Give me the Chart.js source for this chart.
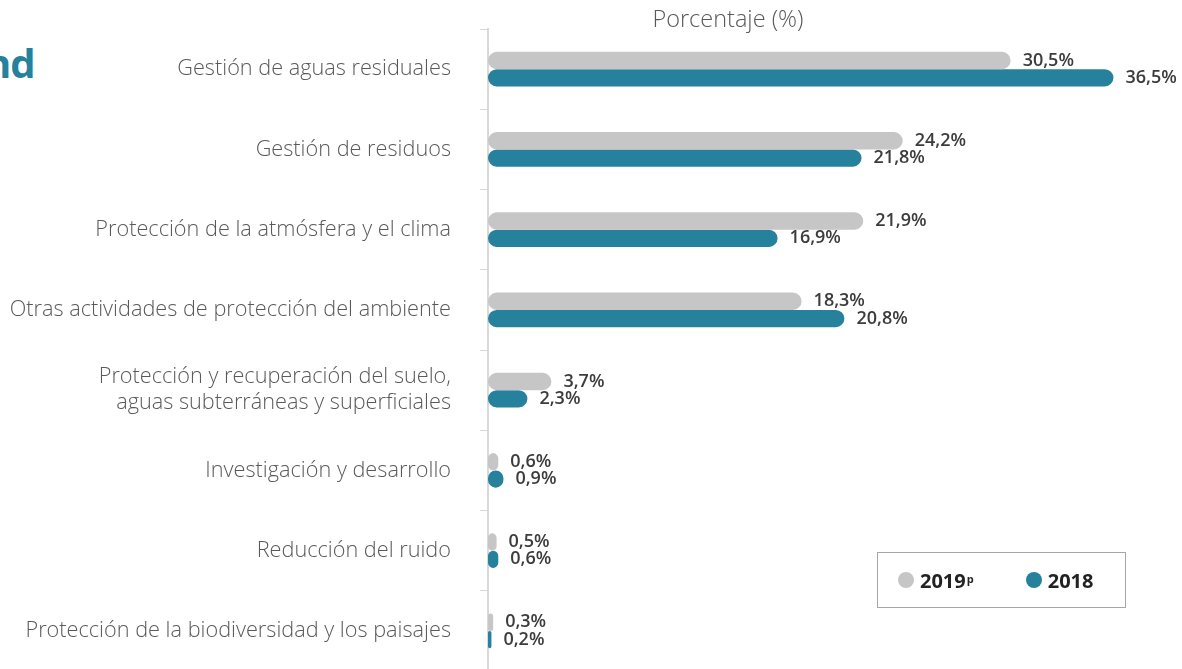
<!DOCTYPE html>
<html lang="es">
<head>
<meta charset="utf-8">
<title>Porcentaje (%)</title>
<script src="https://cdn.jsdelivr.net/npm/chart.js@4.4.1/dist/chart.umd.min.js"></script>
<style>
  html, body { margin: 0; padding: 0; background: #fff; overflow: hidden; }
  body { width: 1182px; height: 669px; position: relative; font-family: "Open Sans", sans-serif; }
  #wrap { position: absolute; left: 0; top: 0; width: 1182px; height: 671px; }
  #cut-title { position: absolute; left: -15px; top: 35px; font: 700 40px "Open Sans", sans-serif; color: #25819c; letter-spacing: -1px; }
  #legend { position: absolute; left: 877px; top: 552px; width: 247px; height: 54px; border: 1px solid #a6a6a6; display: flex; align-items: center; }
  .item { display: flex; align-items: center; font: 700 20px "Open Sans", sans-serif; color: #222; }
  .dot { width: 16px; height: 16px; border-radius: 50%; margin-right: 6px; }
  .item sup { font-size: 11px; margin-left: 1px; position: relative; top: -2px; }
</style>
</head>
<body>
<div id="cut-title">nd</div>
<div id="wrap"><canvas id="chart"></canvas></div>
<div id="legend"></div>
<script>
const categories = [
  "Gestión de aguas residuales",
  "Gestión de residuos",
  "Protección de la atmósfera y el clima",
  "Otras actividades de protección del ambiente",
  ["Protección y recuperación del suelo,", "aguas subterráneas y superficiales"],
  "Investigación y desarrollo",
  "Reducción del ruido",
  "Protección de la biodiversidad y los paisajes"
];
const values2019 = [30.5, 24.2, 21.9, 18.3, 3.7, 0.6, 0.5, 0.3];
const values2018 = [36.5, 21.8, 16.9, 20.8, 2.3, 0.9, 0.6, 0.2];
const seriesNames = ["2019", "2018"];
const seriesSup = ["p", ""];
const axisTitle = "Porcentaje (%)";

const GRAY = "#c6c6c6";
const TEAL = "#25819c";
const AXIS_LEFT = 488;

const fmt = (v) => v.toFixed(1).replace(".", ",") + "%";

const valueLabels = {
  id: "valueLabels",
  afterDatasetsDraw(chart) {
    const ctx = chart.ctx;
    ctx.save();
    ctx.font = "600 18px 'Open Sans', sans-serif";
    ctx.fillStyle = "#3c3c3c";
    ctx.textAlign = "left";
    ctx.textBaseline = "middle";
    chart.data.datasets.forEach((ds, i) => {
      chart.getDatasetMeta(i).data.forEach((bar, j) => {
        ctx.fillText(fmt(ds.data[j]), bar.x + 12, bar.y);
      });
    });
    ctx.restore();
  }
};

const topTitle = {
  id: "topTitle",
  afterDraw(chart) {
    const ctx = chart.ctx;
    ctx.save();
    ctx.font = "300 23.5px 'Open Sans', sans-serif";
    ctx.fillStyle = "#595959";
    ctx.textAlign = "center";
    ctx.textBaseline = "middle";
    ctx.fillText(axisTitle, chart.scales.x.getPixelForValue(14), 20);
    ctx.restore();
  }
};

const barStyle = {
  borderRadius: 9,
  borderSkipped: false,
  categoryPercentage: 0.43,
  barPercentage: 1
};

new Chart(document.getElementById("chart"), {
  type: "bar",
  data: {
    labels: categories,
    datasets: [
      { label: seriesNames[0], data: values2019, backgroundColor: GRAY, ...barStyle },
      { label: seriesNames[1], data: values2018, backgroundColor: TEAL, ...barStyle }
    ]
  },
  options: {
    indexAxis: "y",
    responsive: true,
    maintainAspectRatio: false,
    animation: false,
    layout: { padding: { top: 29, right: 0, bottom: 0, left: 0 } },
    scales: {
      x: { display: false, min: 0, max: 40.5 },
      y: {
        afterFit: (scale) => {
          scale.width = AXIS_LEFT;
          scale.paddingTop = 0;
          scale.paddingBottom = 0;
        },
        border: { display: true, color: "#d9d9d9", width: 2 },
        grid: { display: true, drawOnChartArea: false, offset: true, color: "#d9d9d9", tickLength: 8, lineWidth: 1 },
        ticks: {
          color: "#595959",
          padding: 29,
          font: { family: "'Open Sans', sans-serif", size: 21.7, weight: 300, lineHeight: 1.2 }
        }
      }
    },
    plugins: {
      legend: { display: false },
      tooltip: { enabled: false }
    }
  },
  plugins: [valueLabels, topTitle]
});

const legend = document.getElementById("legend");
[GRAY, TEAL].forEach((color, i) => {
  const item = document.createElement("div");
  item.className = "item";
  item.style.marginLeft = i === 0 ? "20px" : "52px";
  item.innerHTML = `<span class="dot" style="background:${color}"></span>${seriesNames[i]}${seriesSup[i] ? `<sup>${seriesSup[i]}</sup>` : ""}`;
  legend.appendChild(item);
});
</script>
</body>
</html>
